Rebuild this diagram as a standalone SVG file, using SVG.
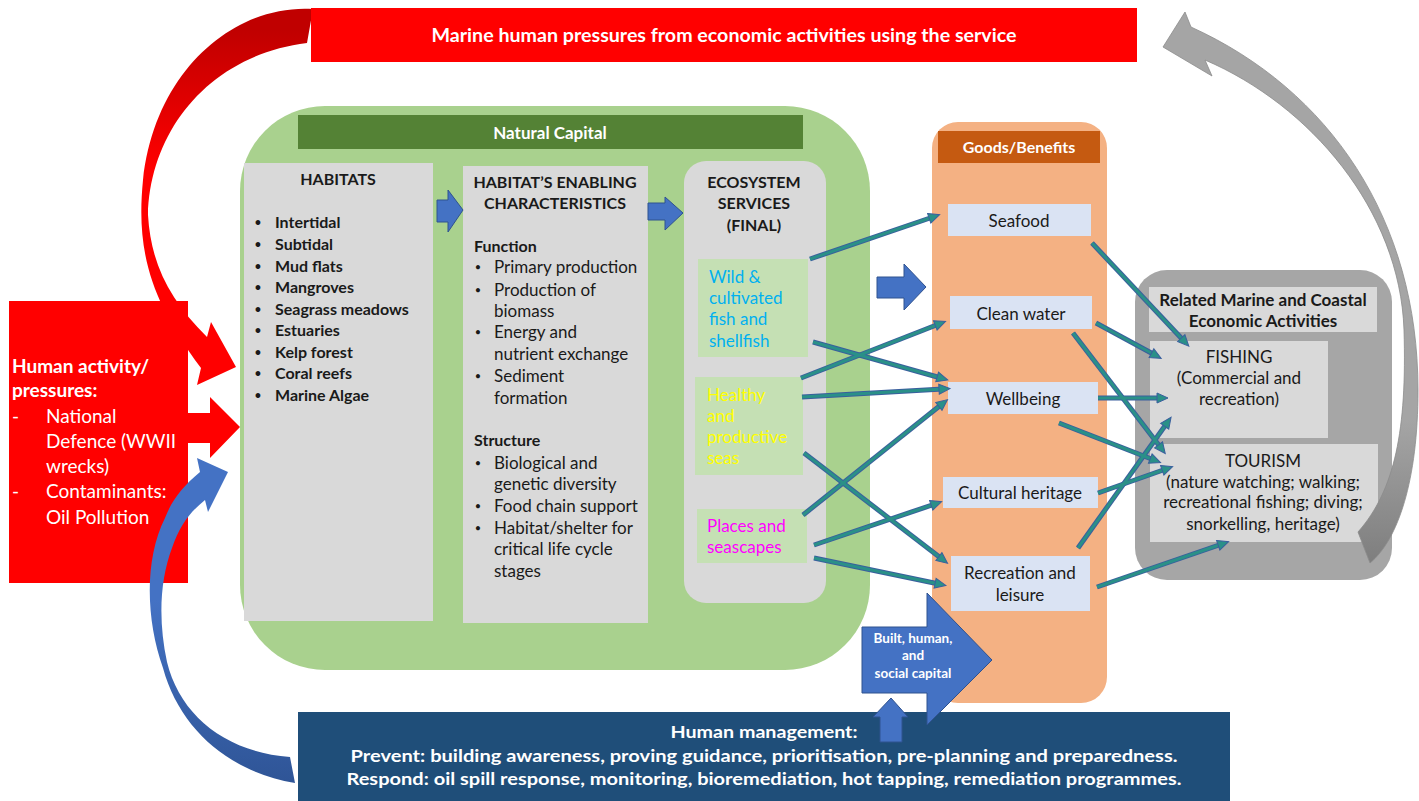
<svg xmlns="http://www.w3.org/2000/svg" width="1419" height="801" viewBox="0 0 1419 801">
<defs>
  <linearGradient id="redFade" gradientUnits="userSpaceOnUse" x1="0" y1="30" x2="0" y2="170">
    <stop offset="0" stop-color="#c00000"/>
    <stop offset="1" stop-color="#ff0000"/>
  </linearGradient>
  <linearGradient id="blueFade" gradientUnits="userSpaceOnUse" x1="0" y1="600" x2="0" y2="780">
    <stop offset="0" stop-color="#4472c4"/>
    <stop offset="1" stop-color="#2f5597"/>
  </linearGradient>
  <linearGradient id="grayFade" gradientUnits="userSpaceOnUse" x1="0" y1="420" x2="0" y2="560">
    <stop offset="0" stop-color="#a5a5a5"/>
    <stop offset="1" stop-color="#7f7f7f"/>
  </linearGradient>
  <marker id="tip" markerUnits="userSpaceOnUse" markerWidth="14" markerHeight="13" viewBox="-1 -6.5 14 13" refX="4" refY="0" orient="auto">
    <path d="M0,-5 L11,0 L0,5 Z" fill="#2a9088" stroke="#3a5f9e" stroke-width="1"/>
  </marker>
  <style>
    .f { font-family: Lato, "Open Sans", "Liberation Sans", sans-serif; }
    .b { font-weight: 700; }
    .w { fill: #ffffff; }
    .k { fill: #1a1a1a; }
    .c { text-anchor: middle; }
    .s16 { font-size: 16px; }
    .s17 { font-size: 17px; }
    .s19 { font-size: 19px; }
    .dot { font-size: 11px; text-anchor: middle; }
    .box { fill: #d9d9d9; }
    .good { fill: #dae3f3; }
    .svc { fill: #c5e0b4; }
    .blk { fill: #4472c4; stroke: #2f528f; stroke-width: 1; }
    .lo { fill: none; stroke: #3a5f9e; stroke-width: 5; }
    .li { fill: none; stroke: #2a9088; stroke-width: 3; marker-end: url(#tip); }
  </style>
</defs>

<rect width="1419" height="801" fill="#ffffff"/>

<!-- Natural capital panel -->
<g id="natural-capital">
  <rect x="240" y="106" width="630" height="564" rx="85" fill="#a9d18e"/>
  <rect x="298" y="115" width="505" height="34" fill="#548235"/>
  <text x="550" y="139" class="f b w c s17">Natural Capital</text>
</g>

<g id="habitats">
  <rect x="244" y="163" width="189" height="458" class="box"/>
  <text x="338" y="185" class="f b k c s16">HABITATS</text>
  <g class="f b k dot">
    <text x="258" y="226">•</text>
    <text x="258" y="248">•</text>
    <text x="258" y="270">•</text>
    <text x="258" y="291">•</text>
    <text x="258" y="313">•</text>
    <text x="258" y="334">•</text>
    <text x="258" y="356">•</text>
    <text x="258" y="377">•</text>
    <text x="258" y="399">•</text>
  </g>
  <g class="f b k s16">
    <text x="275" y="228">Intertidal</text>
    <text x="275" y="250">Subtidal</text>
    <text x="275" y="272">Mud flats</text>
    <text x="275" y="293">Mangroves</text>
    <text x="275" y="315">Seagrass meadows</text>
    <text x="275" y="336">Estuaries</text>
    <text x="275" y="358">Kelp forest</text>
    <text x="275" y="379">Coral reefs</text>
    <text x="275" y="401">Marine Algae</text>
  </g>
</g>

<g id="enabling-characteristics">
  <rect x="463" y="166" width="185" height="457" class="box"/>
  <text x="555" y="188" class="f b k c s16">HABITAT’S ENABLING</text>
  <text x="555" y="209" class="f b k c s16">CHARACTERISTICS</text>
  <text x="474" y="252" class="f b k s16">Function</text>
  <g class="f k dot">
    <text x="478" y="271">•</text>
    <text x="478" y="294">•</text>
    <text x="478" y="336">•</text>
    <text x="478" y="380">•</text>
    <text x="478" y="467">•</text>
    <text x="478" y="510">•</text>
    <text x="478" y="532">•</text>
  </g>
  <g class="f k s17">
    <text x="494" y="273">Primary production</text>
    <text x="494" y="296">Production of</text>
    <text x="494" y="317">biomass</text>
    <text x="494" y="338">Energy and</text>
    <text x="494" y="360">nutrient exchange</text>
    <text x="494" y="382">Sediment</text>
    <text x="494" y="404">formation</text>
  </g>
  <text x="474" y="446" class="f b k s16">Structure</text>
  <g class="f k s17">
    <text x="494" y="469">Biological and</text>
    <text x="494" y="490">genetic diversity</text>
    <text x="494" y="512">Food chain support</text>
    <text x="494" y="534">Habitat/shelter for</text>
    <text x="494" y="555">critical life cycle</text>
    <text x="494" y="577">stages</text>
  </g>
</g>

<g id="ecosystem-services">
  <rect x="684" y="161" width="142" height="442" rx="22" class="box"/>
  <text x="754" y="188" class="f b k c s16">ECOSYSTEM</text>
  <text x="754" y="209" class="f b k c s16">SERVICES</text>
  <text x="754" y="231" class="f b k c s16">(FINAL)</text>
</g>

<g id="service-fish">
  <rect x="698" y="259" width="110" height="98" class="svc"/>
  <g class="f s17" fill="#00b0f0">
    <text x="709" y="283">Wild &amp;</text>
    <text x="709" y="304">cultivated</text>
    <text x="709" y="325">fish and</text>
    <text x="709" y="347">shellfish</text>
  </g>
</g>

<g id="service-seas">
  <rect x="695" y="377" width="108" height="98" class="svc"/>
  <g class="f s17" fill="#ffff00">
    <text x="707" y="401">Healthy</text>
    <text x="707" y="422">and</text>
    <text x="707" y="443">productive</text>
    <text x="707" y="464">seas</text>
  </g>
</g>

<g id="service-places">
  <rect x="697" y="509" width="110" height="54" class="svc"/>
  <g class="f s17" fill="#ff00ff">
    <text x="707" y="532">Places and</text>
    <text x="707" y="553">seascapes</text>
  </g>
</g>

<!-- Block arrows between stages -->
<g id="flow-arrows">
  <path class="blk" d="M437,200 L448,200 L448,190 L463,210 L448,232 L448,222 L437,222 Z"/>
  <path class="blk" d="M648,203 L665,203 L665,197 L683,213 L665,230 L665,220 L648,220 Z"/>
  <path class="blk" d="M877,277 L904,277 L904,264 L926,287 L904,310 L904,298 L877,298 Z"/>
</g>

<g id="goods-benefits">
  <rect x="932" y="122" width="175" height="581" rx="26" fill="#f4b183"/>
  <rect x="938" y="131" width="162" height="32" fill="#c55a11"/>
  <text x="1019" y="153" class="f b w c s16">Goods/Benefits</text>
</g>

<g id="good-seafood">
  <rect x="948" y="204" width="143" height="32" class="good"/>
  <text x="1019" y="227" class="f k c s17">Seafood</text>
</g>
<g id="good-clean-water">
  <rect x="950" y="296" width="142" height="33" class="good"/>
  <text x="1021" y="320" class="f k c s17">Clean water</text>
</g>
<g id="good-wellbeing">
  <rect x="948" y="382" width="150" height="32" class="good"/>
  <text x="1023" y="405" class="f k c s17">Wellbeing</text>
</g>
<g id="good-cultural-heritage">
  <rect x="943" y="477" width="155" height="31" class="good"/>
  <text x="1020" y="499" class="f k c s17">Cultural heritage</text>
</g>
<g id="good-recreation">
  <rect x="951" y="556" width="139" height="55" class="good"/>
  <text x="1020" y="579" class="f k c s17">Recreation and</text>
  <text x="1020" y="601" class="f k c s17">leisure</text>
</g>

<g id="economic-activities">
  <rect x="1135" y="270" width="257" height="310" rx="32" fill="#a6a6a6"/>
  <rect x="1149" y="287" width="228" height="45" class="box"/>
  <text x="1263" y="306" class="f b k c s17">Related Marine and Coastal</text>
  <text x="1263" y="327" class="f b k c s17">Economic Activities</text>
</g>
<g id="activity-fishing">
  <rect x="1150" y="341" width="178" height="97" class="box"/>
  <text x="1239" y="363" class="f k c s17">FISHING</text>
  <text x="1239" y="384" class="f k c s17">(Commercial and</text>
  <text x="1239" y="405" class="f k c s17">recreation)</text>
</g>
<g id="activity-tourism">
  <rect x="1150" y="444" width="228" height="98" class="box"/>
  <text x="1263" y="467" class="f k c s17">TOURISM</text>
  <text x="1263" y="488" class="f k c s17">(nature watching; walking;</text>
  <text x="1263" y="508" class="f k c s17">recreational fishing; diving;</text>
  <text x="1263" y="530" class="f k c s17">snorkelling, heritage)</text>
</g>

<!-- Links from services to goods and from goods to activities -->
<g id="connectors">
  <g class="lo">
    <path d="M810,259 L933,217"/>
    <path d="M813,342 L941,378"/>
    <path d="M801,378 L939,324"/>
    <path d="M802,397 L943,389"/>
    <path d="M804,453 L942,559"/>
    <path d="M803,515 L942,404"/>
    <path d="M814,545 L935,504"/>
    <path d="M814,558 L939,584"/>
    <path d="M1092,243 L1184,341"/>
    <path d="M1096,323 L1155,355"/>
    <path d="M1073,333 L1161,448"/>
    <path d="M1098,398 L1161,398"/>
    <path d="M1059,423 L1154,460"/>
    <path d="M1098,493 L1166,469"/>
    <path d="M1078,548 L1167,423"/>
    <path d="M1097,587 L1222,544"/>
  </g>
  <g class="li">
    <path d="M810,259 L933,217"/>
    <path d="M813,342 L941,378"/>
    <path d="M801,378 L939,324"/>
    <path d="M802,397 L943,389"/>
    <path d="M804,453 L942,559"/>
    <path d="M803,515 L942,404"/>
    <path d="M814,545 L935,504"/>
    <path d="M814,558 L939,584"/>
    <path d="M1092,243 L1184,341"/>
    <path d="M1096,323 L1155,355"/>
    <path d="M1073,333 L1161,448"/>
    <path d="M1098,398 L1161,398"/>
    <path d="M1059,423 L1154,460"/>
    <path d="M1098,493 L1166,469"/>
    <path d="M1078,548 L1167,423"/>
    <path d="M1097,587 L1222,544"/>
  </g>
</g>

<!-- Feedback arrow from activities back to pressures -->
<g id="feedback-arrow">
  <path d="M1370,563 C1398,540 1418,480 1418,390 C1418,220 1330,90 1191,27 L1185,12 L1163,47 L1212,76 L1205,60 C1310,105 1400,210 1404,330 C1407,430 1395,490 1358,532 Z" fill="url(#grayFade)" stroke="#8c8c8c" stroke-width="0.8"/>
</g>

<g id="human-management">
  <rect x="298" y="712" width="932" height="89" fill="#1f4e79"/>
  <text x="764" y="738" class="f b w c s17" textLength="187" lengthAdjust="spacingAndGlyphs">Human management:</text>
  <text x="764" y="762" class="f b w c s17" textLength="827" lengthAdjust="spacingAndGlyphs">Prevent: building awareness,  proving guidance, prioritisation,  pre-planning and preparedness.</text>
  <text x="764" y="785" class="f b w c s17" textLength="835" lengthAdjust="spacingAndGlyphs">Respond: oil spill response, monitoring, bioremediation, hot tapping, remediation programmes.</text>
</g>

<g id="built-capital">
  <path class="blk" d="M862,627 L927,627 L927,593 L992,660 L927,725 L927,693 L862,693 Z"/>
  <text x="913" y="643" class="f b w c" font-size="13.5">Built, human,</text>
  <text x="913" y="660" class="f b w c" font-size="13.5">and</text>
  <text x="913" y="678" class="f b w c" font-size="13.5">social capital</text>
  <path class="blk" d="M880,742 L880,717 L873,717 L891,698 L908,717 L902,717 L902,742 Z"/>
</g>

<g id="human-activity">
  <rect x="9" y="301" width="179" height="282" fill="#ff0000"/>
  <text x="12" y="373" class="f b w s19">Human activity/</text>
  <text x="12" y="397" class="f b w s19">pressures:</text>
  <g class="f w s19">
    <text x="12" y="423">-</text><text x="46" y="423">National</text>
    <text x="46" y="448">Defence (WWII</text>
    <text x="46" y="473">wrecks)</text>
    <text x="12" y="498">-</text><text x="46" y="498">Contaminants:</text>
    <text x="46" y="524">Oil Pollution</text>
  </g>
</g>

<!-- Pressure arrows into the habitats -->
<g id="pressure-arrows">
  <path d="M188,413 L210,413 L210,397 L240,427 L210,458 L210,443 L188,443 Z" fill="#ff0000"/>
  <path d="M313,9 C235,4 155,70 143,180 C136,250 150,300 201,368 L197,385 L236,367 L211,322 L207,337 C170,300 151,265 148,215 C150,130 210,55 307,43 Z" fill="url(#redFade)"/>
</g>

<!-- Management arrow back into the habitats -->
<g id="management-arrow">
  <path d="M295,783 C230,772 180,730 163,668 C146,620 144,560 165,518 C172,500 182,487 200,472 L197,458 L228,472 L208,512 L205,500 C190,512 180,525 172,548 C160,580 158,620 167,662 C180,715 225,752 290,757 Z" fill="url(#blueFade)"/>
</g>

<g id="pressures-bar">
  <rect x="311" y="8" width="826" height="54" fill="#ff0000"/>
  <text x="724" y="42" class="f b w c" font-size="18" textLength="585" lengthAdjust="spacingAndGlyphs">Marine human pressures from economic activities using the service</text>
</g>
</svg>
